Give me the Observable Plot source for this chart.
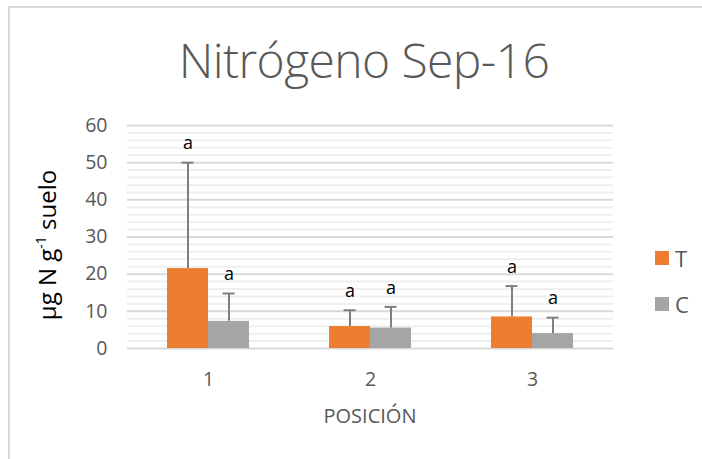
<!DOCTYPE html>
<html>
<head>
<meta charset="utf-8">
<script src="https://cdn.jsdelivr.net/npm/d3@7"></script>
<script src="https://cdn.jsdelivr.net/npm/@observablehq/plot@0.6"></script>
<style>
  html, body { margin: 0; padding: 0; background: #fff; }
  #wrap { position: relative; width: 702px; height: 459px; overflow: hidden; background: #fff; }
  #border { position: absolute; left: 8px; top: 6px; width: 720px; height: 470px;
            border-left: 2px solid #d9d9d9; border-top: 2px solid #d9d9d9; box-sizing: border-box; }
  #title { position: absolute; left: 0; width: 728px; top: 27px; text-align: center;
           font-family: "Open Sans", sans-serif; font-weight: 300; font-size: 48px; color: #595959; letter-spacing: -0.6px; }
  #ylab { position: absolute; left: 46px; top: 245px; transform: translate(-50%, -50%) rotate(-90deg);
          font-family: "Open Sans", sans-serif; font-size: 24px; color: #000; white-space: nowrap; }
  #ylab sup { font-size: 14px; vertical-align: 10px; line-height: 0; }
  #xlab { position: absolute; left: 270px; width: 200px; top: 402px; text-align: center;
          font-family: "Open Sans", sans-serif; font-size: 20px; color: #595959; }
  #chart { position: absolute; left: 0; top: 100px; }
  #legend { position: absolute; left: 655px; top: 235px; font-family: "Open Sans", sans-serif; font-size: 22px; color: #595959; }
  .li { display: flex; align-items: center; height: 46px; }
  .sw { width: 14px; height: 14px; margin-right: 6px; }
</style>
</head>
<body>
<div id="wrap">
  <div id="border"></div>
  <div id="title">Nitrógeno Sep-16</div>
  <div id="ylab">µg N g<sup>-1</sup> suelo</div>
  <div id="chart"></div>
  <div id="xlab">POSICIÓN</div>
  <div id="legend"></div>
</div>
<script>
const positions = ["1", "2", "3"];
const seriesNames = ["T", "C"];
const seriesColors = ["#ed7d31", "#a5a5a5"];
const valuesT = [21.5, 5.9, 8.5];
const valuesC = [7.3, 5.5, 4.0];
const errorsT = [28.5, 4.4, 8.3];
const errorsC = [7.5, 5.7, 4.3];
const letters = [["a", "a"], ["a", "a"], ["a", "a"]];
const yTicks = [0, 10, 20, 30, 40, 50, 60];
const yMinor = d3.range(0, 61, 2);

const rows = [];
positions.forEach((p, i) => {
  rows.push({pos: p, series: "T", value: valuesT[i], err: errorsT[i], top: valuesT[i] + errorsT[i], letter: letters[i][0]});
  rows.push({pos: p, series: "C", value: valuesC[i], err: errorsC[i], top: valuesC[i] + errorsC[i], letter: letters[i][1]});
});

const chart = Plot.plot({
  width: 702,
  height: 340,
  marginLeft: 127,
  marginRight: 89,
  marginTop: 25,
  marginBottom: 92,
  style: {fontFamily: "Open Sans, sans-serif", background: "transparent"},
  fx: {domain: positions, padding: 0, label: null},
  x: {domain: seriesNames, paddingInner: 0, paddingOuter: 0.975, axis: null},
  y: {domain: [0, 60], label: null},
  color: {domain: seriesNames, range: seriesColors},
  marks: [
    Plot.ruleY(yMinor.filter(v => v % 10 !== 0), {stroke: "#efefef", strokeWidth: 2}),
    Plot.ruleY(yTicks, {stroke: "#d9d9d9", strokeWidth: 2}),
    Plot.barY(rows, {fx: "pos", x: "series", y: "value", fill: "series"}),
    Plot.ruleX(rows, {fx: "pos", x: "series", y1: "value", y2: "top", stroke: "#7f7f7f", strokeWidth: 2}),
    Plot.tickY(rows, {fx: "pos", x: "series", y: "top", stroke: "#7f7f7f", strokeWidth: 2, insetLeft: 14.5, insetRight: 14.5}),
    Plot.text(rows, {fx: "pos", x: "series", y: "top", text: "letter", dy: -19, fontSize: 18, fill: "#000"}),
    Plot.axisY({ticks: yTicks, tickSize: 0, tickPadding: 20, fontSize: 19.5, color: "#595959", label: null}),
    Plot.axisFx({anchor: "bottom", tickSize: 0, tickPadding: 24, fontSize: 19.5, color: "#595959", label: null})
  ]
});
document.getElementById("chart").appendChild(chart);

const leg = document.getElementById("legend");
seriesNames.forEach((s, i) => {
  const item = document.createElement("div");
  item.className = "li";
  const sw = document.createElement("div");
  sw.className = "sw";
  sw.style.background = seriesColors[i];
  const t = document.createElement("span");
  t.textContent = s;
  item.appendChild(sw);
  item.appendChild(t);
  leg.appendChild(item);
});
</script>
</body>
</html>
